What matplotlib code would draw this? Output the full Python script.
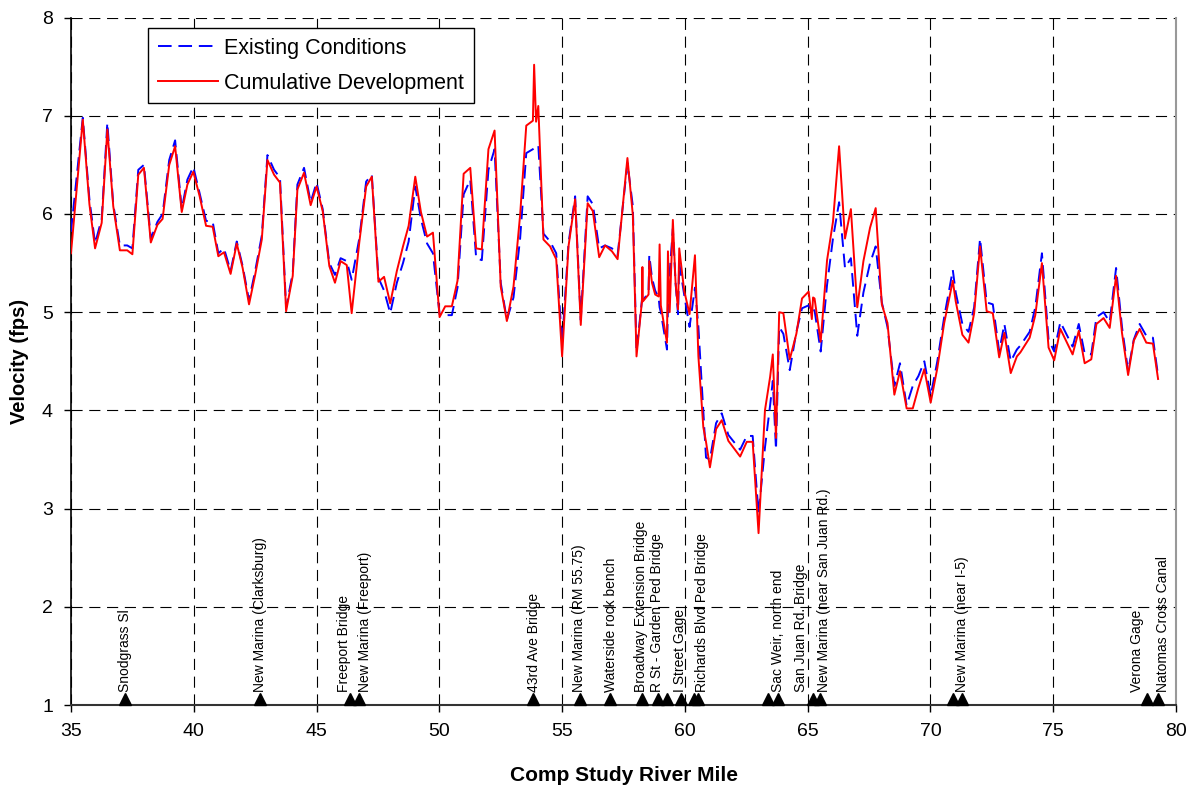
import matplotlib
matplotlib.use('Agg')
import matplotlib.pyplot as plt

plt.rcParams['font.family'] = ['Liberation Sans', 'DejaVu Sans']

# river mile of each cross section
river_mile = [35.00, 35.48, 35.75, 35.98, 36.25, 36.48, 36.72, 36.99, 37.29, 37.50,
              37.74, 37.97, 38.25, 38.52, 38.73, 39.00, 39.24, 39.51, 39.74, 39.98,
              40.23, 40.50, 40.77, 41.00, 41.23, 41.50, 41.75, 41.99, 42.25, 42.50,
              42.77, 43.00, 43.27, 43.51, 43.76, 44.03, 44.22, 44.49, 44.76, 45.00,
              45.25, 45.52, 45.75, 45.98, 46.23, 46.43, 46.74, 47.02, 47.25, 47.52,
              47.75, 48.00, 48.27, 48.52, 48.75, 49.02, 49.25, 49.50, 49.74, 50.01,
              50.24, 50.51, 50.74, 50.99, 51.26, 51.50, 51.73, 52.00, 52.25, 52.50,
              52.75, 53.02, 53.29, 53.54, 53.81, 53.86, 53.94, 54.03, 54.24, 54.51,
              54.76, 55.00, 55.26, 55.53, 55.76, 56.04, 56.25, 56.51, 56.75, 57.03,
              57.26, 57.66, 57.88, 58.03, 58.25, 58.27, 58.29, 58.52, 58.55, 58.66,
              58.79, 58.93, 58.97, 59.02, 59.27, 59.31, 59.38, 59.51, 59.62, 59.72,
              59.77, 59.97, 60.19, 60.41, 60.55, 60.75, 60.86, 61.02, 61.27, 61.50,
              61.77, 62.25, 62.52, 62.76, 63.00, 63.26, 63.47, 63.58, 63.71, 63.84,
              64.01, 64.27, 64.54, 64.77, 65.04, 65.17, 65.22, 65.28, 65.53, 65.79,
              66.03, 66.28, 66.52, 66.76, 67.02, 67.27, 67.54, 67.77, 68.02, 68.25,
              68.53, 68.76, 69.03, 69.28, 69.51, 69.75, 70.01, 70.28, 70.56, 70.91,
              71.03, 71.30, 71.55, 71.78, 72.02, 72.29, 72.54, 72.80, 73.01, 73.27,
              73.52, 73.66, 74.04, 74.27, 74.54, 74.81, 75.04, 75.29, 75.79, 76.04,
              76.28, 76.55, 76.76, 77.05, 77.30, 77.56, 77.80, 78.05, 78.28, 78.52,
              78.79, 79.06, 79.27]

existing = [5.82, 6.98, 6.15, 5.70, 5.95, 6.93, 6.10, 5.68, 5.68, 5.65,
            6.45, 6.50, 5.75, 5.92, 6.00, 6.55, 6.75, 6.05, 6.35, 6.48,
            6.22, 5.93, 5.92, 5.60, 5.65, 5.42, 5.72, 5.47, 5.12, 5.42,
            5.78, 6.60, 6.45, 6.37, 5.05, 5.40, 6.30, 6.47, 6.12, 6.32,
            6.05, 5.50, 5.38, 5.55, 5.52, 5.33, 5.75, 6.33, 6.40, 5.35,
            5.22, 4.99, 5.30, 5.50, 5.72, 6.28, 5.95, 5.70, 5.60, 4.98,
            4.97, 4.97, 5.25, 6.20, 6.35, 5.55, 5.53, 6.45, 6.66, 5.30,
            4.92, 5.15, 5.75, 6.62, 6.66, 6.67, 6.68, 6.70, 5.80, 5.72,
            5.60, 4.68, 5.70, 6.18, 4.92, 6.18, 6.10, 5.65, 5.68, 5.65,
            5.58, 6.52, 6.08, 4.60, 5.12, 5.12, 5.12, 5.20, 5.58, 5.35,
            5.22, 5.15, 5.05, 5.00, 4.62, 5.05, 5.40, 5.85, 5.30, 4.98,
            5.50, 5.18, 4.85, 5.25, 4.85, 4.00, 3.52, 3.50, 3.87, 3.97,
            3.75, 3.60, 3.74, 3.74, 2.95, 3.62, 4.05, 4.30, 3.60, 4.85,
            4.78, 4.41, 4.80, 5.04, 5.07, 5.00, 5.02, 5.02, 4.60, 5.28,
            5.75, 6.12, 5.45, 5.55, 4.76, 5.20, 5.50, 5.67, 5.10, 4.85,
            4.25, 4.48, 4.05, 4.25, 4.35, 4.50, 4.15, 4.50, 4.95, 5.43,
            5.20, 4.88, 4.80, 5.05, 5.75, 5.10, 5.08, 4.60, 4.88, 4.50,
            4.62, 4.66, 4.80, 5.05, 5.60, 4.72, 4.60, 4.90, 4.65, 4.88,
            4.58, 4.57, 4.95, 5.00, 4.90, 5.45, 4.85, 4.40, 4.72, 4.88,
            4.76, 4.74, 4.35]

cumulative = [5.60, 6.96, 6.10, 5.65, 5.91, 6.86, 6.08, 5.63, 5.63, 5.59,
              6.40, 6.47, 5.71, 5.89, 5.95, 6.50, 6.69, 6.02, 6.30, 6.43,
              6.19, 5.88, 5.87, 5.57, 5.61, 5.39, 5.70, 5.45, 5.08, 5.38,
              5.74, 6.55, 6.40, 6.32, 5.01, 5.37, 6.25, 6.42, 6.09, 6.28,
              6.03, 5.47, 5.30, 5.52, 5.48, 4.99, 5.71, 6.28, 6.38, 5.31,
              5.36, 5.09, 5.42, 5.67, 5.88, 6.38, 6.02, 5.77, 5.81, 4.95,
              5.06, 5.06, 5.32, 6.41, 6.47, 5.65, 5.64, 6.66, 6.85, 5.26,
              4.91, 5.26, 5.99, 6.90, 6.95, 7.52, 6.94, 7.10, 5.74, 5.67,
              5.54, 4.55, 5.67, 6.15, 4.87, 6.11, 6.03, 5.56, 5.68, 5.62,
              5.54, 6.57, 5.99, 4.55, 5.11, 5.46, 5.11, 5.18, 5.52, 5.30,
              5.18, 5.16, 5.69, 5.07, 4.69, 5.62, 5.00, 5.94, 5.30, 5.03,
              5.65, 5.22, 4.98, 5.58, 4.55, 3.83, 3.68, 3.42, 3.81, 3.90,
              3.69, 3.53, 3.68, 3.68, 2.75, 4.00, 4.34, 4.57, 3.72, 5.00,
              4.99, 4.52, 4.78, 5.14, 5.21, 4.93, 5.15, 5.14, 4.70, 5.53,
              5.92, 6.69, 5.75, 6.05, 5.05, 5.52, 5.86, 6.06, 5.08, 4.89,
              4.16, 4.40, 4.02, 4.02, 4.23, 4.42, 4.08, 4.43, 4.89, 5.32,
              5.11, 4.77, 4.69, 4.99, 5.67, 5.01, 4.99, 4.54, 4.79, 4.38,
              4.55, 4.59, 4.74, 4.97, 5.50, 4.64, 4.51, 4.83, 4.57, 4.81,
              4.48, 4.52, 4.88, 4.94, 4.84, 5.37, 4.79, 4.36, 4.71, 4.83,
              4.69, 4.68, 4.32]

# landmark triangles along the bottom
marker_mile = [37.2, 42.7, 46.37, 46.72, 53.83, 55.71, 56.97, 58.24, 58.9, 59.28,
               59.85, 60.36, 60.54, 63.4, 63.8, 65.2, 65.5, 70.9, 71.3, 78.8, 79.27]

landmark_names = ['Snodgrass Sl', 'New Marina (Clarksburg)', 'Freeport Bridge',
                  'New Marina (Freeport)', '43rd Ave Bridge', 'New Marina (RM 55.75)',
                  'Waterside rock bench', 'Broadway Extension Bridge',
                  'R St - Garden Ped Bridge', 'I Street Gage', 'Richards Blvd Ped Bridge',
                  'Sac Weir, north end', 'San Juan Rd. Bridge',
                  'New Marina (near San Juan Rd.)', 'New Marina (near I-5)',
                  'Verona Gage', 'Natomas Cross Canal']
landmark_mile = [37.2, 42.68, 46.12, 46.98, 53.84, 55.69, 56.98, 58.2, 58.86, 59.81,
                 60.68, 63.78, 64.72, 65.67, 71.27, 78.42, 79.47]

fig = plt.figure(figsize=(11.94, 7.86), dpi=100)
ax = fig.add_axes([71 / 1194, 1 - 705 / 786, 1105 / 1194, 687.4 / 786])

ax.plot(river_mile, existing, color='#0000ff', lw=1.4, dashes=(7, 3.5),
        label='Existing Conditions', zorder=3)
ax.plot(river_mile, cumulative, color='#ff0000', lw=1.4,
        label='Cumulative Development', zorder=4)

ax.plot(marker_mile, [1.06] * len(marker_mile), linestyle='none', marker='^',
        color='black', markersize=9, clip_on=False, zorder=5)

for name, m in zip(landmark_names, landmark_mile):
    ax.text(m, 1.13, name, rotation=90, ha='center', va='bottom', fontsize=10)

ax.set_xlim(35, 80)
ax.set_ylim(1, 8)
ax.set_xticks(range(35, 81, 5))
ax.set_yticks(range(1, 9))
ax.grid(True, color='black', linestyle=(0, (10, 6)), lw=0.8)
ax.set_axisbelow(True)

ax.tick_params(labelsize=14, direction='out', length=5, width=1, pad=8)
ax.spines['top'].set_visible(False)
ax.spines['right'].set_color('#999999')
ax.spines['right'].set_linewidth(1.5)
ax.spines['left'].set_linewidth(1.2)
ax.spines['bottom'].set_linewidth(1.5)
ax.spines['bottom'].set_color('#333333')

ax.set_xlabel('Comp Study River Mile', fontsize=15, fontweight='bold', labelpad=19)
ax.set_ylabel('Velocity (fps)', fontsize=14.5, fontweight='bold', labelpad=9)

leg = ax.legend(loc='upper left', bbox_to_anchor=(0.0697, 0.985), borderaxespad=0,
                fontsize=15.5, frameon=True, fancybox=False, framealpha=1,
                edgecolor='black', handlelength=2.8, handletextpad=0.3,
                borderpad=0.45, labelspacing=0.65)
leg.get_frame().set_linewidth(1.0)

fig.savefig('out.png', dpi=100)
